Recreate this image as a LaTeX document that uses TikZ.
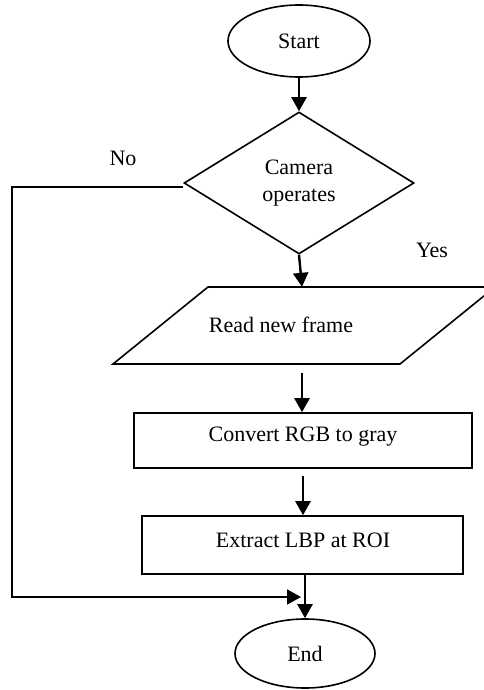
\documentclass[tikz,border=0pt]{standalone}
\usepackage{fontspec}
\setmainfont{Liberation Serif}
\usetikzlibrary{shapes.geometric,arrows.meta}
\tikzset{
  shapeline/.style={draw=black, line width=1.6pt},
  term/.style={shapeline, ellipse, inner sep=0pt},
  decide/.style={shapeline, diamond, inner sep=0pt, align=center},
  procbox/.style={shapeline, rectangle, inner sep=0pt},
  arr/.style={line width=2.4pt, -{Triangle[width=15pt,length=14pt]}},
  plainline/.style={line width=1.6pt},
  lbl/.style={inner sep=0pt}
}
\begin{document}
\begin{tikzpicture}[x=1pt,y=1pt,font=\fontsize{22}{27}\selectfont]
\useasboundingbox (0,0) rectangle (484,-690);
% nodes
\node[term, minimum width=142pt, minimum height=72pt] (start) at (299,-41) {Start};
\node[decide, minimum width=230pt, minimum height=142pt] (dec) at (299,-183) {Camera\\operates};
\node[inner sep=0pt, minimum width=200pt, minimum height=77pt] (read) at (302,-325.5) {};
\draw[shapeline] (113,-364) -- (208,-287) -- (495,-287) -- (400,-364) -- cycle;
\node[lbl] (readtxt) at (281,-325) {Read new frame};
\node[procbox, minimum width=338pt, minimum height=55pt] (conv) at (303,-440.5) {};
\node[lbl] (convtxt) at (303,-437) {Convert RGB to gray};
\node[procbox, minimum width=321pt, minimum height=58pt] (ext) at (302.5,-545) {};
\node[lbl] (exttxt) at (303,-540) {Extract LBP at ROI};
\node[term, minimum width=140pt, minimum height=69pt] (end) at (305,-653.5) {End};
% labels
\node[lbl] (no) at (123,-158) {No};
\node[lbl] (yes) at (432,-250) {Yes};
% coordinates
\coordinate (nw) at (12,-187);
\coordinate (sw) at (12,-597);
\coordinate (join) at (301,-597);
% connectors
\draw[arr] (start.south) -- (dec.north);
\draw[arr] (dec.south) -- (read.north);
\draw[arr] ([yshift=-9pt]read.south) -- (read.south |- conv.north);
\draw[arr] ([yshift=-7pt]conv.south) -- (conv.south |- ext.north);
\draw[arr] (ext.south -| end.north) -- (end.north);
\draw[plainline, arr, line width=1.8pt] ([yshift=-4pt]dec.west) -- (nw) -- (sw) -- (join);
\end{tikzpicture}
\end{document}
